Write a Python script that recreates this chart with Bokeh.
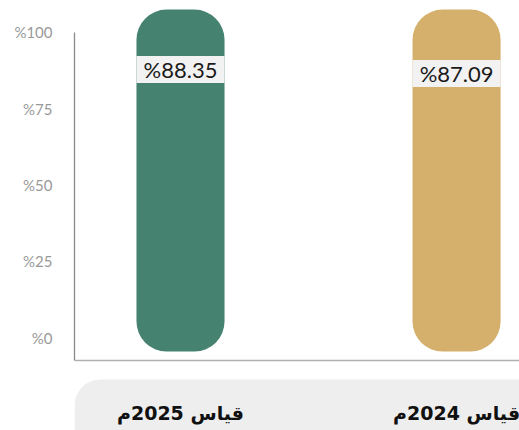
from bokeh.plotting import figure
from bokeh.models import Range1d, FixedTicker, Span, ColumnDataSource
from bokeh.core.properties import value
from bokeh.transform import dodge
from bokeh.embed import file_html
from bokeh.resources import INLINE

# ---- data ----
categories = ["قياس 2025م", "قياس 2024م"]
values = [88.35, 87.09]
value_labels = ["%88.35", "%87.09"]
bar_colors = ["#458270", "#D4B06C"]
tick_values = [0, 25, 50, 75, 100]
tick_labels = ["%0", "%25", "%50", "%75", "%100"]

# ---- layout constants ----
BAR_TOP = 107.5
BAR_BOTTOM = -4.6
AXIS_BASE = -7.54
PILL_TOP = -13.8
CAT_LABEL_Y = -24.6

xs = [i + 0.5 for i in range(len(categories))]

p = figure(width=519, height=430, output_backend="svg", toolbar_location=None,
           x_range=Range1d(0.116, 1.728), y_range=Range1d(-30.49, 110.49),
           x_axis_location=None, min_border_left=74, min_border_right=0,
           min_border_top=0, min_border_bottom=0)
p.outline_line_color = None
p.grid.visible = False
p.background_fill_color = "white"
p.border_fill_color = "white"

yax = p.yaxis[0]
yax.ticker = FixedTicker(ticks=tick_values)
yax.major_label_overrides = {t: l for t, l in zip(tick_values, tick_labels)}
yax.bounds = (AXIS_BASE, 100)
yax.axis_line_color = "#8a8a8a"
yax.axis_line_width = 1.3
yax.major_tick_line_color = None
yax.minor_tick_line_color = None
yax.major_label_standoff = 16
yax.major_label_text_font = "Lato"
yax.major_label_text_font_size = "15px"
yax.major_label_text_color = "#999999"

# x-axis baseline
p.add_layout(Span(location=AXIS_BASE, dimension="width", line_color="#b0b0b0", line_width=1.5))

src = ColumnDataSource(dict(x=xs, v=values, lab=value_labels, c=bar_colors, cat=categories))

# rounded pill bars
p.vbar(x="x", width=0.319, top=BAR_TOP, bottom=BAR_BOTTOM, fill_color="c",
       line_color=None, border_radius=30, source=src)

# value label boxes
p.rect(x="x", y=dodge("v", -0.5, range=p.y_range), width=0.319, height=27, height_units="screen",
       fill_color="#F2F2F2", line_color=None, source=src)
p.text(x="x", y=dodge("v", -0.5, range=p.y_range), text="lab", text_align="center", text_baseline="middle",
       text_font=value("Lato"), text_font_size="22px", text_color="#1a1a1a",
       source=src)

# category pill background
p.quad(left=0.116, right=2.5, top=PILL_TOP, bottom=-60, fill_color="#EEEEEE",
       line_color=None, border_radius=26)
p.text(x="x", y=CAT_LABEL_Y, text="cat", text_align="center", text_baseline="middle",
       text_font=value("DejaVu Sans"), text_font_style="bold", text_font_size="19px",
       text_color="#111111", source=src)

open("out.html", "w").write(file_html(p, INLINE))
